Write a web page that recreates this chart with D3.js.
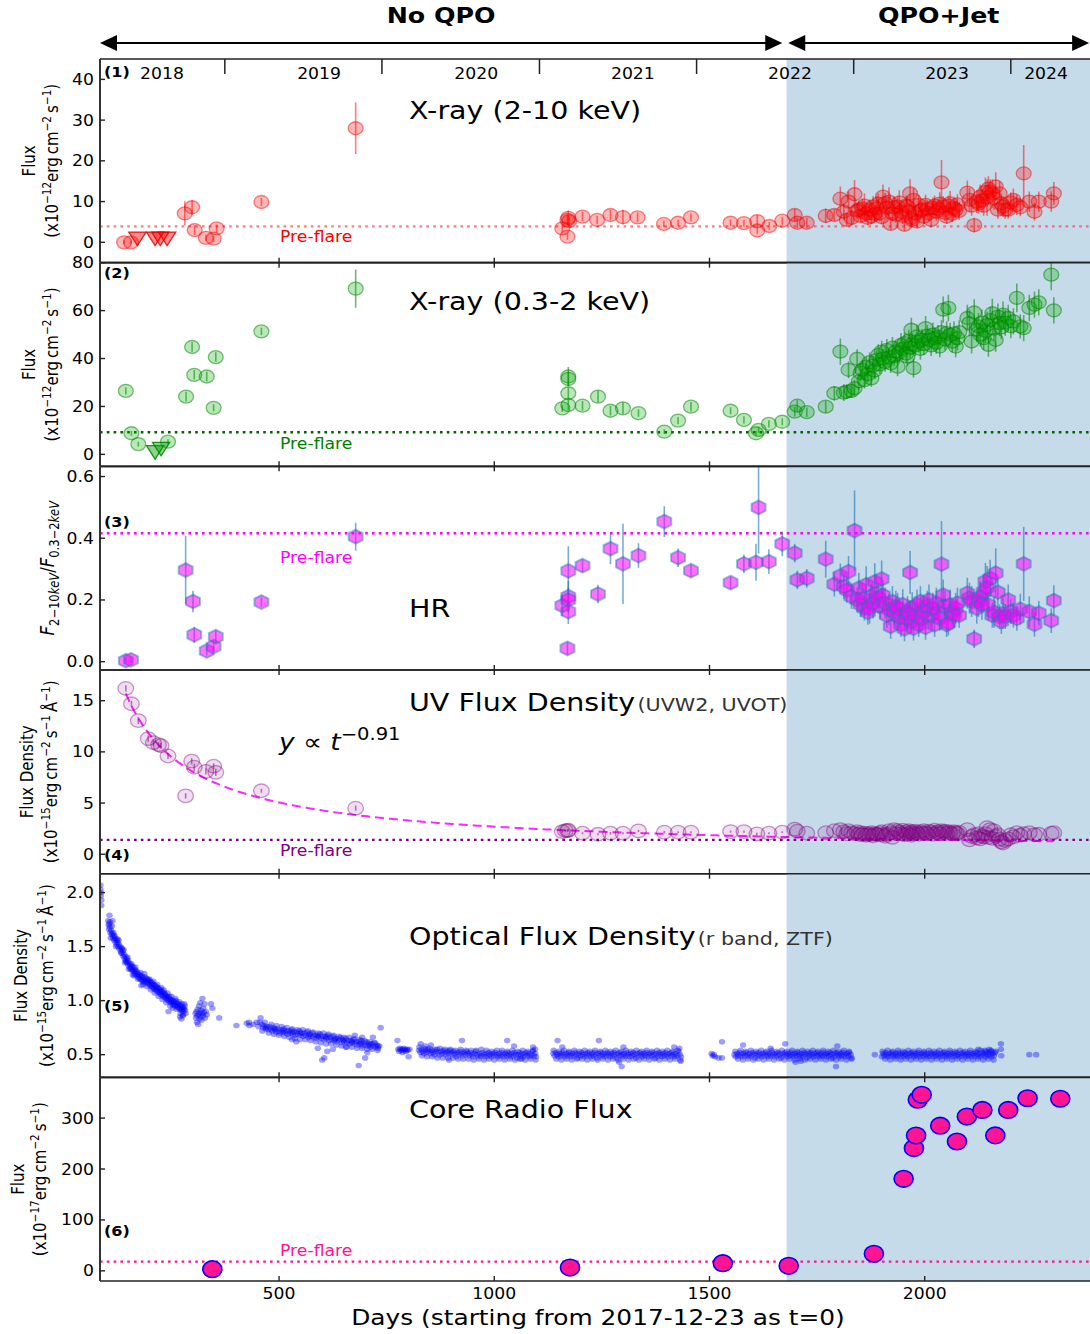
<!DOCTYPE html>
<html><head><meta charset="utf-8">
<script src="https://cdn.jsdelivr.net/npm/d3@7/dist/d3.min.js"></script>
<style>
html,body{margin:0;padding:0;background:#fff;}
svg{display:block;}
text{font-family:"DejaVu Sans","Liberation Sans",sans-serif;}
</style></head>
<body><svg id="chart" width="1090" height="1334"></svg>
<script>
// ================= DATA =================
const xDomain = [84, 2384];
const qpoStart = 1679;
const arrowNoQpo = [84, 1669];
const arrowQpo = [1683, 2382];
const phaseLabels = ["No QPO", "QPO+Jet"];
const yearTickDays = [374, 739, 1105, 1470, 1835, 2200];
const yearLabels = ["2018", "2019", "2020", "2021", "2022", "2023", "2024"];
const yearLabelDays = [228, 593, 958, 1322, 1687, 2052, 2282];
const dayTicks = [500, 1000, 1500, 2000];

const p1Ticks = [0, 10, 20, 30, 40];
const p2Ticks = [0, 20, 40, 60, 80];
const p3Ticks = [0, 0.2, 0.4, 0.6];
const p4Ticks = [0, 5, 10, 15];
const p5Ticks = [0.5, 1.0, 1.5, 2.0];
const p6Ticks = [0, 100, 200, 300];
const preFlare = [3.9, 9.2, 0.416, 1.4, null, 18];

// Swift/XRT observation days in the QPO+Jet era (shared by panels 1-4)
const qDays = [1698,1704,1726,1770,1790,1804,1812,1819,1823,1830,
1837,1843,1847,1851,1855,1860,1864,1868,1872,1876,
1880,1884,1888,1892,1896,1900,1903,1908,1912,1917,
1921,1925,1929,1933,1937,1941,1945,1949,1953,1957,
1960,1963,1966,1969,1971,1974,1978,1982,1986,1990,
1994,1998,2002,2006,2010,2015,2019,2023,2027,2031,
2035,2039,2043,2047,2051,2055,2059,2064,2068,2072,
2076,2080,2099,2104,2109,2115,2121,2125,2129,2133,
2137,2141,2145,2148,2152,2157,2161,2165,2170,2174,
2178,2182,2187,2194,2200,2206,2214,2222,2230,2243,
2255,2265,2294,2300];

// Panel 1: X-ray 2-10 keV
const hardDays = [140,156,281,298,304,330,348,355,459,678,1158,1170,1170,1172,1174,1205,1239,1270,1299,1333,1394,1427,1457,1549,1580,1611,1611,1639,1669];
const hardVal = [0.0,0.0,7.1,8.6,3.0,1.1,0.9,3.4,9.9,28.0,3.4,5.5,1.4,6.0,5.2,6.3,5.5,6.7,6.2,6.1,4.5,4.8,6.1,4.8,4.7,5.2,2.9,4.0,5.3];
const hardErr = [0.4,0.4,3.0,1.8,1.2,0.8,0.8,1.0,1.0,6.3,1.0,1.2,0.8,1.8,1.2,1.2,1.0,1.3,1.8,1.2,0.8,0.8,1.0,0.8,0.8,1.5,0.8,1.0,1.0];
const hardQ = [6.7,4.8,4.8,6.5,6.7,10.7,7.5,5.5,10.0,6.0,
11.8,7.8,8.0,6.5,8.3,9.0,7.1,6.0,8.0,6.3,
8.8,7.0,8.3,9.5,7.1,6.2,11.2,9.6,8.5,10.0,
4.5,7.1,8.6,6.8,8.8,9.8,7.5,6.5,4.3,9.0,
8.8,7.5,12.0,6.0,5.5,10.4,7.1,5.1,9.2,7.8,
8.0,6.3,9.2,8.2,7.1,5.5,8.5,9.0,7.5,8.2,
9.5,14.7,8.8,7.2,6.3,9.0,9.6,7.0,8.4,8.0,
9.3,7.7,12.2,10.4,9.0,4.2,10.0,9.5,11.2,10.2,
9.0,12.4,11.0,13.2,12.5,12.0,10.8,13.7,8.0,12.0,
9.5,8.8,8.0,8.0,9.8,10.4,9.2,8.6,16.9,10.0,
7.5,10.0,10.0,12.0];
const hardQErr = [1.5,1.2,1.2,1.8,1.5,3.0,2.0,1.5,2.5,1.8,
3.5,2.0,2.2,1.8,2.5,3.0,2.0,1.8,2.5,1.8,
2.5,2.0,3.0,2.5,2.0,1.8,3.0,2.5,2.2,3.5,
1.5,2.0,2.5,2.0,2.5,3.0,2.2,2.0,1.5,2.5,
2.5,2.0,3.5,1.8,1.8,3.0,2.0,1.5,2.5,2.2,
2.2,1.8,2.5,2.2,2.0,1.8,2.5,2.5,2.2,2.5,
2.8,5.5,2.5,2.0,1.8,2.5,3.0,2.0,2.5,2.2,
2.5,2.2,3.0,3.0,2.5,1.8,2.8,2.5,3.0,2.8,
2.5,3.5,4.5,3.0,3.0,3.5,2.8,3.5,2.2,3.0,
2.5,2.5,2.2,2.2,2.5,2.8,2.5,2.2,7.0,2.5,
2.2,2.5,2.5,2.8];
const hardULDays = [171, 212, 224, 240];
const hardULVal = [0.8, 0.8, 0.8, 0.8];

// Panel 2: X-ray 0.3-2 keV
const softDays = [144,157,173,242,284,298,303,332,348,353,459,678,1158,1172,1172,1172,1172,1205,1241,1270,1299,1335,1395,1427,1457,1549,1580,1608,1614,1638,1669];
const softVal = [26.5,8.8,4.3,5.3,24.1,44.8,33.2,32.5,19.4,40.6,51.3,69.2,19.2,32.5,31.5,25.5,20.6,20.3,24.1,18.2,19.2,17.2,9.5,14.1,19.9,18.2,14.4,8.8,10.2,12.7,13.6];
const softErr = [1.5,1.0,1.0,1.0,2.0,2.0,2.0,2.0,1.5,2.0,1.5,8.0,1.5,4.0,3.0,2.5,2.0,2.0,2.5,2.0,2.5,1.5,1.0,1.5,2.0,1.5,1.5,1.0,1.2,1.5,1.5];
const softQ = [17.8,20.3,17.6,19.9,25.5,42.9,25.8,26.2,35.3,26.5,
27.6,39.9,30.5,34.0,35.3,31.0,36.6,33.5,38.5,31.7,
37.0,35.0,39.4,41.5,37.5,42.9,40.0,38.5,43.6,40.5,
38.0,44.5,41.0,43.0,36.6,42.5,45.7,44.0,46.4,42.0,
40.8,47.5,44.5,52.0,46.0,36.0,45.5,49.2,47.0,44.0,
47.8,46.0,52.7,49.5,47.8,45.5,50.0,48.5,46.5,49.0,
45.0,51.0,60.4,48.0,50.6,61.1,49.9,47.0,50.5,45.0,
48.5,51.0,56.9,54.8,47.1,59.2,52.0,53.4,50.0,55.0,
48.5,51.5,54.0,45.7,56.0,58.9,52.5,47.8,57.5,54.8,
53.0,58.3,55.0,56.9,53.5,55.5,65.3,53.4,52.7,61.1,
62.5,63.4,75.0,60.1];
const softQErr = [2.0,2.5,2.0,2.5,3.0,5.5,3.5,3.0,3.5,3.0,
3.5,4.0,3.5,3.5,4.0,3.5,4.0,3.5,4.0,3.5,
4.0,3.5,4.0,4.5,4.0,4.5,4.0,4.0,4.5,4.0,
4.0,4.5,4.0,4.5,4.0,4.5,5.0,4.5,4.5,4.0,
4.0,4.5,4.5,5.0,4.5,4.0,4.5,5.0,4.5,4.5,
4.5,4.5,5.0,4.5,4.5,4.5,5.0,4.5,4.5,5.0,
4.5,5.0,5.5,4.5,5.0,5.5,5.0,4.5,5.0,4.5,
5.0,5.0,5.5,5.5,5.0,5.5,5.0,5.5,5.0,5.5,
5.0,5.0,5.5,5.0,5.5,6.0,5.0,5.0,5.5,5.5,
5.0,5.5,5.5,5.5,5.0,5.5,6.0,5.0,5.5,5.5,
5.5,5.5,6.5,5.5];
const softULDays = [212, 226];
const softULVal = [0.7, 2.1];

// Panel 3: hardness ratio
const hrDays = [144,156,283,300,303,332,348,353,459,678,1158,1170,1172,1172,1172,1172,1205,1241,1270,1299,1335,1395,1427,1457,1549,1580,1608,1614,1638,1669];
const hrVal = [0.003,0.006,0.297,0.195,0.087,0.035,0.049,0.081,0.193,0.405,0.182,0.043,0.294,0.211,0.200,0.162,0.311,0.219,0.366,0.317,0.344,0.454,0.337,0.295,0.256,0.317,0.322,0.500,0.324,0.382];
const hrErr = [0.01,0.01,0.11,0.035,0.025,0.015,0.015,0.02,0.015,0.045,0.035,0.02,0.08,0.05,0.04,0.04,0.02,0.03,0.05,0.13,0.04,0.05,0.03,0.02,0.02,0.03,0.06,0.15,0.04,0.04];
const hrQ = [0.352,0.265,0.270,0.332,0.251,0.278,0.243,0.232,0.292,0.211,
0.425,0.200,0.238,0.185,0.206,0.173,0.249,0.160,0.173,0.211,
0.190,0.259,0.222,0.206,0.180,0.268,0.215,0.190,0.150,0.170,
0.114,0.195,0.160,0.180,0.173,0.145,0.120,0.185,0.106,0.140,
0.162,0.155,0.289,0.130,0.175,0.108,0.150,0.184,0.120,0.195,
0.140,0.162,0.111,0.180,0.200,0.150,0.173,0.120,0.190,0.160,
0.140,0.316,0.216,0.180,0.120,0.125,0.184,0.160,0.150,0.173,
0.190,0.150,0.222,0.206,0.195,0.074,0.173,0.195,0.210,0.185,
0.227,0.260,0.240,0.184,0.270,0.150,0.160,0.287,0.225,0.146,
0.130,0.157,0.146,0.200,0.162,0.150,0.140,0.170,0.317,0.162,
0.121,0.157,0.133,0.198];
const hrQErr = [0.03,0.03,0.03,0.06,0.04,0.04,0.04,0.04,0.05,0.04,
0.13,0.04,0.05,0.04,0.05,0.04,0.06,0.04,0.05,0.04,
0.05,0.06,0.05,0.05,0.04,0.06,0.05,0.05,0.04,0.05,
0.04,0.05,0.04,0.05,0.05,0.04,0.04,0.05,0.04,0.04,
0.05,0.04,0.07,0.04,0.05,0.04,0.04,0.05,0.04,0.05,
0.04,0.05,0.04,0.05,0.05,0.04,0.05,0.04,0.05,0.04,
0.04,0.14,0.05,0.05,0.04,0.04,0.05,0.04,0.04,0.05,
0.05,0.04,0.05,0.05,0.05,0.03,0.05,0.05,0.05,0.05,
0.05,0.06,0.07,0.05,0.06,0.04,0.05,0.08,0.05,0.04,
0.04,0.05,0.04,0.05,0.04,0.04,0.04,0.05,0.12,0.05,
0.04,0.04,0.04,0.05];

// Panel 4: UV (UVW2) flux density
const uvDays = [144,157,173,196,208,220,226,242,283,297,303,330,348,353,459,678,1158,1165,1170,1172,1205,1241,1270,1299,1335,1395,1427,1457,1549,1580,1610,1638,1669];
const uvVal = [16.2,14.7,13.05,11.3,10.9,10.7,10.6,9.6,5.7,9.1,8.5,8.1,8.6,8.0,6.2,4.5,2.21,2.3,2.31,2.35,2.05,1.95,2.05,2.05,2.28,2.15,2.15,2.15,2.21,2.21,1.98,2.05,2.15];
const uvErr = [0.3,0.3,0.35,0.3,0.3,0.25,0.3,0.3,0.25,0.3,0.35,0.3,0.3,0.35,0.2,0.25,0.1,0.1,0.12,0.1,0.1,0.1,0.12,0.1,0.1,0.12,0.1,0.1,0.1,0.1,0.12,0.1,0.1];
const uvQ = [2.45,2.25,2.05,2.1,2.3,2.4,2.2,2.0,2.3,2.1,
2.0,2.2,1.95,2.1,1.9,2.05,1.85,2.0,1.9,2.1,
1.8,2.0,1.95,1.9,2.1,2.2,1.9,1.75,1.95,2.3,
2.1,1.65,2.4,2.0,2.3,2.15,2.0,2.35,1.9,2.2,
2.0,2.3,2.1,1.85,2.2,2.0,2.25,2.1,1.95,2.2,
2.05,2.3,2.1,2.0,2.25,2.15,1.95,2.35,2.1,2.2,
2.0,2.3,2.15,2.25,2.05,2.2,2.1,2.0,2.2,2.1,
2.0,2.15,2.4,1.4,1.74,1.9,1.6,2.0,1.5,1.8,
1.7,2.0,2.6,1.65,2.4,1.55,2.3,1.75,1.9,1.45,
1.2,1.1,1.35,1.5,1.9,1.7,2.1,1.85,2.0,2.1,
1.9,1.95,2.05,2.1];
const uvFitAmp = 1446, uvFitIndex = -0.91, uvFitRange = [144, 2300];

// Panel 5: optical (ZTF r band), "day:flux" pairs
const optA = "85:2.07 85:2.03 86:2.00 86:1.97 87:1.93 87:1.88 106:1.79 106:1.71 107:1.73 112:1.69 113:1.74";
const optB = "104:1.70 105:1.66 107:1.68 108:1.63 110:1.65 111:1.61 113:1.62 114:1.58 115:1.63 116:1.60 117:1.56 119:1.58 120:1.54 122:1.56 123:1.52 125:1.54 125:1.57 126:1.50 128:1.52 129:1.48 131:1.50 132:1.46 134:1.49 135:1.44 135:1.48 137:1.46 138:1.41 140:1.43 141:1.39 143:1.41 144:1.37 145:1.36 146:1.39 147:1.35 149:1.37 150:1.33 152:1.35 153:1.31 155:1.33 155:1.30 156:1.29 158:1.32 159:1.28 160:1.24 161:1.31 162:1.27 164:1.29 165:1.25 165:1.27 167:1.28 168:1.24 170:1.27 171:1.23 173:1.25 174:1.21 175:1.23 176:1.24 177:1.20 179:1.23 180:1.19 180:1.14 182:1.22 183:1.18 185:1.21 185:1.19 186:1.17 188:1.22 189:1.18 191:1.21 192:1.17 194:1.20 195:1.16 195:1.18 197:1.19 198:1.15 200:1.18 201:1.14 203:1.17 204:1.13 205:1.15 206:1.16 207:1.12 209:1.15 210:1.11 212:1.14 213:1.10 215:1.13 215:1.11 216:1.09 218:1.12 219:1.08 221:1.11 222:1.07 224:1.10 225:1.06 225:1.08 227:1.09 228:1.05 230:1.08 231:1.04 233:1.07 234:1.03 235:1.06 236:1.05 237:1.02 239:1.04 240:1.01 242:1.03 243:1.00 243:0.90 245:1.02 245:1.04 246:0.99 248:1.01 249:0.98 251:1.00 252:0.97 254:0.99 255:0.96 255:1.00 257:0.98 258:0.95 260:1.00 261:0.96 263:0.98 264:0.94 265:0.95 266:0.97 267:0.93 269:0.96 270:0.92 270:0.85 272:0.95 273:0.91 273:0.83 275:0.94 275:0.92 276:0.90 276:0.86 278:0.93 279:0.92 281:0.95 282:0.91";
const optBs = "103:1.74 109:1.58 118:1.60 121:1.50 127:1.56 133:1.44 139:1.47 142:1.35 148:1.40 151:1.29 157:1.34 163:1.23 166:1.31 172:1.20 178:1.26 184:1.15 187:1.25 193:1.13 199:1.20 202:1.10 208:1.18 211:1.07 217:1.15 220:1.04 226:1.12 229:1.01 232:1.10 238:0.98 241:1.07 247:0.95 250:1.04 253:0.93 259:1.02 262:0.92 268:0.99 271:0.88 274:0.97 277:0.87 280:0.97 283:0.88";
const optC = "306:0.88 307:0.84 308:0.90 309:0.80 310:0.86 311:0.92 312:0.78 313:0.87 314:0.95 315:0.83 316:0.89 317:0.98 318:0.85 319:0.91 320:0.82 321:0.88 322:1.02 323:0.86 324:0.93 325:0.89 327:0.97 328:0.84 330:0.90 332:0.87 342:0.97 345:0.93 361:0.84";
const optD = "401:0.77 425:0.79 430:0.80 431:0.77 440:0.78 448:0.80 452:0.76 457:0.84 460:0.78 463:0.75 466:0.77 469:0.74 470:0.75 472:0.76 475:0.73 478:0.76 481:0.74 484:0.72 487:0.75 490:0.73 490:0.74 493:0.71 496:0.74 499:0.72 502:0.70 505:0.73 508:0.71 510:0.72 511:0.74 514:0.70 517:0.72 520:0.69 523:0.72 526:0.70 529:0.73 530:0.71 530:0.64 532:0.69 535:0.71 538:0.68 540:0.62 541:0.71 544:0.69 547:0.72 550:0.68 550:0.70 553:0.70 556:0.67 559:0.70 562:0.68 565:0.71 568:0.66 570:0.68 571:0.69 574:0.67 577:0.70 580:0.66 583:0.68 586:0.65 589:0.68 590:0.67 590:0.56 592:0.66 595:0.69 598:0.65 600:0.45 601:0.67 604:0.64 605:0.47 607:0.67 610:0.65 610:0.66 612:0.53 613:0.68 616:0.63 619:0.66 622:0.64 625:0.67 625:0.55 628:0.63 630:0.64 631:0.65 634:0.62 637:0.65 640:0.63 643:0.66 646:0.61 649:0.64 650:0.63 652:0.62 655:0.65 655:0.57 658:0.61 661:0.63 664:0.60 667:0.63 670:0.61 670:0.62 673:0.64 676:0.60 676:0.68 679:0.62 682:0.59 685:0.62 685:0.40 688:0.60 690:0.60 691:0.63 693:0.66 694:0.58 697:0.61 700:0.59 700:0.47 703:0.62 705:0.52 706:0.58 709:0.60 710:0.59 712:0.57 715:0.60 718:0.58 718:0.66 721:0.61 724:0.57 727:0.59 730:0.56 730:0.58 733:0.58 736:0.75";
const optDs = "455:0.80 461:0.72 467:0.80 476:0.70 482:0.78 488:0.69 494:0.77 500:0.68 506:0.76 512:0.67 518:0.75 524:0.66 531:0.74 537:0.65 543:0.73 549:0.64 555:0.73 561:0.64 567:0.72 573:0.63 579:0.71 585:0.62 591:0.70 597:0.61 603:0.70 609:0.60 615:0.69 621:0.60 627:0.68 633:0.59 639:0.67 645:0.58 651:0.66 657:0.57 663:0.66 669:0.57 675:0.65 681:0.56 687:0.64 693:0.56 699:0.63 705:0.55 711:0.62 717:0.55 723:0.61 729:0.54";
const optE = "775:0.63 777:0.55 779:0.53 781:0.56 783:0.54 785:0.55 787:0.52 789:0.56 791:0.54 793:0.55 795:0.53 797:0.55 799:0.54 801:0.48 803:0.55";
const optF = "825:0.54 828:0.52 829:0.60 831:0.55 834:0.53 837:0.51 840:0.54 840:0.58 843:0.52 846:0.55 849:0.53 852:0.51 853:0.59 855:0.54 858:0.52 861:0.50 864:0.53 867:0.55 870:0.52 873:0.50 876:0.53 879:0.51 882:0.54 885:0.52 888:0.50 891:0.53 894:0.51 895:0.45 897:0.54 900:0.52 903:0.50 906:0.53 909:0.51 912:0.48 915:0.52 918:0.50 921:0.53 924:0.51 925:0.63 927:0.49 930:0.52 933:0.50 936:0.53 939:0.51 942:0.49 945:0.52 948:0.50 951:0.48 954:0.51 957:0.53 960:0.50 963:0.48 966:0.51 969:0.49 972:0.52 975:0.50 978:0.48 981:0.51 984:0.49 987:0.52 990:0.50 993:0.48 996:0.51 999:0.49 1002:0.52 1005:0.50 1008:0.48 1011:0.51 1014:0.49 1017:0.52 1020:0.50 1023:0.48 1026:0.51 1029:0.49 1030:0.63 1032:0.52 1035:0.50 1038:0.48 1041:0.51 1044:0.49 1046:0.58 1047:0.52 1050:0.50 1053:0.47 1056:0.50 1059:0.52 1062:0.49 1063:0.46 1065:0.51 1068:0.48 1071:0.50 1074:0.52 1077:0.49 1080:0.51 1083:0.48 1086:0.50 1089:0.53 1090:0.57 1092:0.49 1095:0.51 1095:0.55 1097:0.48";
const optFs = "826:0.57 832:0.49 838:0.56 844:0.48 850:0.56 856:0.48 862:0.55 868:0.47 874:0.56 880:0.47 886:0.55 892:0.47 898:0.55 904:0.47 910:0.54 916:0.46 922:0.55 928:0.46 934:0.54 940:0.46 946:0.54 952:0.45 958:0.54 964:0.46 970:0.55 976:0.45 982:0.54 988:0.46 994:0.53 1000:0.45 1006:0.54 1012:0.46 1018:0.54 1024:0.45 1030:0.53 1036:0.46 1042:0.54 1048:0.45 1054:0.53 1060:0.46 1066:0.54 1072:0.45 1078:0.53 1084:0.46 1090:0.54 1096:0.45";
const optG = "1137:0.51 1140:0.49 1143:0.52 1146:0.50 1147:0.63 1149:0.48 1152:0.51 1155:0.49 1158:0.52 1158:0.57 1161:0.50 1164:0.48 1167:0.51 1170:0.49 1173:0.52 1176:0.50 1179:0.48 1182:0.51 1185:0.49 1188:0.52 1191:0.50 1194:0.47 1197:0.51 1200:0.49 1203:0.52 1206:0.50 1209:0.48 1212:0.51 1215:0.49 1218:0.52 1221:0.50 1224:0.48 1227:0.51 1230:0.49 1233:0.52 1236:0.50 1239:0.47 1242:0.51 1243:0.63 1245:0.49 1248:0.52 1251:0.50 1254:0.48 1257:0.51 1260:0.49 1263:0.52 1266:0.50 1269:0.48 1272:0.51 1275:0.49 1278:0.52 1281:0.50 1284:0.47 1287:0.51 1290:0.49 1290:0.43 1293:0.52 1296:0.50 1296:0.39 1299:0.48 1300:0.57 1302:0.51 1305:0.49 1308:0.52 1311:0.50 1314:0.48 1317:0.51 1320:0.49 1323:0.52 1326:0.50 1329:0.47 1332:0.51 1335:0.49 1338:0.52 1341:0.50 1344:0.48 1347:0.51 1350:0.49 1353:0.52 1356:0.50 1359:0.48 1362:0.51 1365:0.49 1368:0.52 1371:0.50 1374:0.47 1377:0.51 1380:0.49 1383:0.52 1386:0.50 1389:0.48 1392:0.51 1395:0.49 1398:0.52 1401:0.50 1404:0.48 1407:0.51 1410:0.49 1413:0.52 1416:0.50 1418:0.57 1419:0.48 1422:0.51 1425:0.49 1428:0.53 1430:0.56 1431:0.50 1433:0.44 1434:0.48";
const optGs = "1138:0.54 1144:0.46 1150:0.53 1156:0.45 1162:0.54 1168:0.46 1174:0.53 1180:0.45 1186:0.54 1192:0.46 1198:0.53 1204:0.46 1210:0.54 1216:0.45 1222:0.53 1228:0.46 1234:0.54 1240:0.45 1246:0.53 1252:0.46 1258:0.54 1264:0.45 1270:0.53 1276:0.46 1282:0.54 1288:0.45 1294:0.53 1300:0.46 1306:0.54 1312:0.45 1318:0.53 1324:0.46 1330:0.54 1336:0.45 1342:0.53 1348:0.46 1354:0.54 1360:0.45 1366:0.53 1372:0.46 1378:0.54 1384:0.45 1390:0.53 1396:0.46 1402:0.54 1408:0.45 1414:0.53 1420:0.46 1426:0.54 1432:0.45";
const optH = "1505:0.51 1507:0.49 1510:0.50 1513:0.48 1521:0.47 1529:0.47 1529:0.62";
const optI = "1558:0.50 1561:0.48 1564:0.51 1567:0.49 1570:0.52 1573:0.50 1576:0.48 1578:0.59 1579:0.51 1582:0.49 1585:0.52 1588:0.50 1591:0.48 1594:0.51 1597:0.49 1600:0.52 1603:0.50 1606:0.47 1609:0.51 1612:0.49 1615:0.52 1618:0.50 1621:0.48 1624:0.51 1627:0.49 1630:0.52 1633:0.50 1636:0.48 1639:0.51 1642:0.49 1642:0.56 1645:0.52 1648:0.50 1651:0.48 1654:0.51 1657:0.49 1660:0.52 1663:0.50 1666:0.47 1669:0.51 1672:0.49 1675:0.52 1676:0.60 1678:0.50 1681:0.48 1684:0.51 1687:0.49 1690:0.52 1693:0.50 1696:0.48 1699:0.51 1700:0.43 1702:0.49 1705:0.52 1708:0.50 1711:0.48 1712:0.44 1714:0.51 1717:0.49 1720:0.52 1723:0.50 1726:0.47 1729:0.51 1732:0.49 1735:0.52 1738:0.50 1741:0.48 1744:0.51 1747:0.49 1750:0.52 1753:0.50 1756:0.48 1759:0.51 1762:0.49 1765:0.52 1768:0.50 1771:0.48 1774:0.51 1777:0.49 1780:0.52 1783:0.50 1786:0.47 1789:0.51 1792:0.49 1794:0.39 1795:0.52 1797:0.58 1798:0.50 1801:0.48 1804:0.51 1807:0.49 1810:0.52 1813:0.50 1816:0.48 1819:0.51 1822:0.49 1825:0.52 1828:0.50 1830:0.47";
const optIs = "1560:0.53 1566:0.46 1572:0.54 1578:0.45 1584:0.53 1590:0.46 1596:0.54 1602:0.45 1608:0.53 1614:0.46 1620:0.54 1626:0.45 1632:0.53 1638:0.46 1644:0.54 1650:0.45 1656:0.53 1662:0.46 1668:0.54 1674:0.45 1680:0.53 1686:0.46 1692:0.54 1698:0.45 1704:0.53 1710:0.46 1716:0.54 1722:0.45 1728:0.53 1734:0.46 1740:0.54 1746:0.45 1752:0.53 1758:0.46 1764:0.54 1770:0.45 1776:0.53 1782:0.46 1788:0.54 1794:0.45 1800:0.53 1806:0.46 1812:0.54 1818:0.45 1824:0.53 1830:0.46";
const optJ = "1884:0.50 1900:0.48 1903:0.51 1906:0.49 1909:0.52 1912:0.50 1915:0.48 1918:0.51 1921:0.49 1924:0.52 1927:0.50 1930:0.48 1933:0.51 1936:0.49 1939:0.52 1942:0.50 1945:0.48 1948:0.51 1951:0.49 1954:0.52 1957:0.50 1960:0.48 1963:0.51 1966:0.49 1969:0.52 1972:0.50 1975:0.48 1978:0.51 1981:0.49 1984:0.52 1987:0.50 1990:0.48 1993:0.51 1996:0.49 1999:0.52 2002:0.50 2005:0.48 2008:0.51 2011:0.49 2014:0.52 2017:0.50 2020:0.48 2023:0.51 2026:0.49 2029:0.52 2032:0.50 2035:0.48 2038:0.51 2041:0.49 2044:0.52 2047:0.50 2050:0.48 2053:0.51 2056:0.49 2059:0.52 2062:0.50 2065:0.48 2068:0.51 2071:0.49 2074:0.52 2077:0.50 2080:0.48 2083:0.51 2086:0.49 2089:0.52 2092:0.50 2095:0.48 2098:0.51 2101:0.49 2104:0.52 2107:0.50 2110:0.48 2113:0.51 2116:0.49 2119:0.52 2122:0.50 2125:0.48 2125:0.55 2128:0.51 2131:0.49 2134:0.52 2137:0.50 2140:0.48 2140:0.54 2143:0.51 2146:0.49 2149:0.52 2150:0.55 2152:0.50 2155:0.48 2155:0.53 2158:0.51 2161:0.49 2164:0.52";
const optJs = "1902:0.53 1908:0.46 1914:0.54 1920:0.45 1926:0.53 1932:0.46 1938:0.54 1944:0.45 1950:0.53 1956:0.46 1962:0.54 1968:0.45 1974:0.53 1980:0.46 1986:0.54 1992:0.45 1998:0.53 2004:0.46 2010:0.54 2016:0.45 2022:0.53 2028:0.46 2034:0.54 2040:0.45 2046:0.53 2052:0.46 2058:0.54 2064:0.45 2070:0.53 2076:0.46 2082:0.54 2088:0.45 2094:0.53 2100:0.46 2106:0.54 2112:0.45 2118:0.53 2124:0.46 2130:0.54 2136:0.45 2142:0.53 2148:0.46 2154:0.54 2160:0.45 2165:0.53";
const optK = "2177:0.60 2177:0.55 2178:0.49 2243:0.50 2259:0.50";

// Panel 6: core radio flux
const radioDays = [345,1176,1531,1684,1882,1951,1975,1980,1984,1993,2036,2075,2098,2134,2164,2194,2239,2315];
const radioVal = [3.3,6.5,15,9.8,33.4,180.7,241,265.8,336,345.8,285,254,303,316,266,316,339,338];

// ================= DRAWING =================
const svg = d3.select("#chart");
const L = 100, R = 1090, T0 = 59, PH = 203.67, SX = 1.15;
const x = d3.scaleLinear().domain(xDomain).range([L, R]);
const defs = svg.append("defs");

function addText(sel, px, py, parts, o) {
  o = o || {};
  const t = sel.append("text")
    .attr("transform", `translate(${px},${py}) scale(${SX},1)` + (o.rot ? ` rotate(${o.rot})` : ""))
    .attr("font-size", o.size || 15)
    .attr("text-anchor", o.anchor || "start")
    .attr("fill", o.fill || "#000");
  if (o.weight) t.attr("font-weight", o.weight);
  if (o.style) t.attr("font-style", o.style);
  if (typeof parts === "string") parts = [{t: parts}];
  let shift = 0;
  parts.forEach(p => {
    const ts = t.append("tspan").text(p.t);
    const target = p.dy || 0;
    if (target - shift !== 0) ts.attr("dy", target - shift);
    shift = target;
    if (p.size) ts.attr("font-size", p.size);
    if (p.style) ts.attr("font-style", p.style);
    if (p.fill) ts.attr("fill", p.fill);
    if (p.dx) ts.attr("dx", p.dx);
  });
  return t;
}
function parsePairs(s) { return s.trim().split(/\s+/).map(p => { const a = p.split(":"); return [+a[0], +a[1]]; }); }
function zip(d, v, e) { return d.map((dd, i) => ({d: dd, v: v[i], e: e ? e[i] : 0})); }

function hexPath(cx, cy, r) {
  const pts = [];
  for (let k = 0; k < 6; k++) {
    const a = (-90 + 60 * k) * Math.PI / 180;
    pts.push([cx + r * SX * Math.cos(a), cy + r * Math.sin(a)]);
  }
  return "M" + pts.map(p => p.join(",")).join("L") + "Z";
}
function triPath(cx, cy, s) {
  return `M${cx - s * SX},${cy - s * 0.8}L${cx + s * SX},${cy - s * 0.8}L${cx},${cy + s}Z`;
}

// ---------- top arrows and phase labels ----------
const arrowG = svg.append("g");
function drawArrow(a, b, yy) {
  const xa = x(a), xb = x(b), hl = 17, hw = 8;
  arrowG.append("line").attr("x1", xa + 5).attr("x2", xb - 5).attr("y1", yy).attr("y2", yy)
    .attr("stroke", "#000").attr("stroke-width", 2.2);
  arrowG.append("path").attr("d", `M${xa},${yy}L${xa + hl},${yy - hw}L${xa + hl},${yy + hw}Z`).attr("fill", "#000");
  arrowG.append("path").attr("d", `M${xb},${yy}L${xb - hl},${yy - hw}L${xb - hl},${yy + hw}Z`).attr("fill", "#000");
}
drawArrow(arrowNoQpo[0], arrowNoQpo[1], 43);
drawArrow(arrowQpo[0], arrowQpo[1], 43);
addText(svg, (x(arrowNoQpo[0]) + x(arrowNoQpo[1])) / 2, 23, phaseLabels[0], {size: 22, weight: "bold", anchor: "middle"});
addText(svg, (x(arrowQpo[0]) + x(arrowQpo[1])) / 2, 23, phaseLabels[1], {size: 22, weight: "bold", anchor: "middle"});

// ---------- panel configuration (styles only) ----------
const sup = (t, dy) => ({t: t, size: 10.5, dy: dy === undefined ? -6 : dy});
const unitsParts = (exp, withA) => {
  const p = [{t: "(x10"}, sup("\u2212" + exp), {t: "erg\u2009cm", dy: 0}, sup("\u22122"), {t: "\u2009s", dy: 0}, sup("\u22121")];
  if (withA) { p.push({t: "\u2009\u00C5", dy: 0}); p.push(sup("\u22121")); }
  p.push({t: ")", dy: 0});
  return p;
};
const panels = [
  {dom: [-5, 45], ticks: p1Ticks, fmt: d3.format("d"), preColor: "rgba(255,70,70,0.7)", preTextColor: "#ff0000", preTextVal: 0.0,
   lab: "(1)", labY: 77, title: "X-ray (2-10 keV)", titleY: 119,
   y1: {t: "Flux", x: 35}, y2: {parts: unitsParts("12"), x: 58}},
  {dom: [-5, 80], ticks: p2Ticks, fmt: d3.format("d"), preColor: "#006400", preTextColor: "#008000", preTextVal: 2.2,
   lab: "(2)", labY: 278, title: "X-ray (0.3-2 keV)", titleY: 310,
   y1: {t: "Flux", x: 35}, y2: {parts: unitsParts("12"), x: 58}},
  {dom: [-0.027, 0.633], ticks: p3Ticks, fmt: d3.format(".1f"), preColor: "#ff00ff", preTextColor: "#ff00ff", preTextVal: 0.32,
   lab: "(3)", labY: 527, title: "HR", titleY: 617,
   y1: null, y2: {parts: [{t: "F", style: "italic"}, {t: "2\u221210", size: 11.5, dy: 4}, {t: "keV", size: 11.5, dy: 4, style: "italic"},
     {t: "/", dy: 0}, {t: "F", style: "italic", dy: 0}, {t: "0.3\u22122", size: 11.5, dy: 4}, {t: "keV", size: 11.5, dy: 4, style: "italic"}], x: 54, size: 16.5}},
  {dom: [-1.9, 18], ticks: p4Ticks, fmt: d3.format("d"), preColor: "#800080", preTextColor: "#800080", preTextVal: -0.17,
   lab: "(4)", labY: 860, title: "UV Flux Density", sub: "(UVW2, UVOT)", titleY: 711,
   y1: {t: "Flux Density", x: 33}, y2: {parts: unitsParts("15", true), x: 57}},
  {dom: [0.29, 2.175], ticks: p5Ticks, fmt: d3.format(".1f"), preColor: null,
   lab: "(5)", labY: 1011, title: "Optical Flux Density", sub: "(r band, ZTF)", titleY: 945,
   y1: {t: "Flux Density", x: 27}, y2: {parts: unitsParts("15", true), x: 53}},
  {dom: [-20, 380], ticks: p6Ticks, fmt: d3.format("d"), preColor: "#ff1493", preTextColor: "#ff1493", preTextVal: 29.5,
   lab: "(6)", labY: 1236, title: "Core Radio Flux", titleY: 1118,
   y1: {t: "Flux", x: 24}, y2: {parts: unitsParts("17"), x: 46}}
];

panels.forEach((P, i) => {
  const top = T0 + i * PH, bot = top + PH;
  const y = d3.scaleLinear().domain(P.dom).range([bot, top]);
  const g = svg.append("g");
  defs.append("clipPath").attr("id", "clip" + i).append("rect")
    .attr("x", L).attr("y", top).attr("width", R - L).attr("height", PH);
  // QPO+Jet shading
  g.append("rect").attr("x", x(qpoStart)).attr("y", top).attr("width", R - x(qpoStart)).attr("height", PH).attr("fill", "#c6dbea");
  const pg = g.append("g").attr("clip-path", `url(#clip${i})`);

  // pre-flare level
  if (P.preColor) {
    pg.append("line").attr("x1", L).attr("x2", R).attr("y1", y(preFlare[i])).attr("y2", y(preFlare[i]))
      .attr("stroke", P.preColor).attr("stroke-width", 2.4).attr("stroke-dasharray", "2.6,4.2");
    addText(g, 280, y(P.preTextVal), "Pre-flare", {size: 15, fill: P.preTextColor});
  }

  const errBars = (data, color) => {
    pg.selectAll(null).data(data).enter().append("line")
      .attr("x1", d => x(d.d)).attr("x2", d => x(d.d))
      .attr("y1", d => y(d.v - d.e)).attr("y2", d => y(d.v + d.e))
      .attr("stroke", color).attr("stroke-width", 1.6);
  };
  const circles = (data, r, fill, stroke, sw) => {
    pg.selectAll(null).data(data).enter().append("ellipse")
      .attr("cx", d => x(d.d)).attr("cy", d => y(d.v)).attr("rx", r * SX).attr("ry", r)
      .attr("fill", fill).attr("stroke", stroke).attr("stroke-width", sw || 1.3);
  };

  if (i === 0) {
    const data = zip(hardDays, hardVal, hardErr).concat(zip(qDays, hardQ, hardQErr));
    errBars(data, "rgba(255,0,0,0.5)");
    circles(data, 6.5, "rgba(255,0,0,0.28)", "rgba(230,0,0,0.45)");
    pg.selectAll(null).data(zip(hardULDays, hardULVal)).enter().append("path")
      .attr("d", d => triPath(x(d.d), y(d.v) - 1, 7.5)).attr("fill", "rgba(255,0,0,0.45)").attr("stroke", "rgba(220,0,0,0.85)").attr("stroke-width", 1.3);
  } else if (i === 1) {
    const data = zip(softDays, softVal, softErr).concat(zip(qDays, softQ, softQErr));
    errBars(data, "rgba(0,128,0,0.55)");
    circles(data, 6.5, "rgba(0,170,0,0.28)", "rgba(0,128,0,0.5)");
    pg.selectAll(null).data(zip(softULDays, softULVal)).enter().append("path")
      .attr("d", d => triPath(x(d.d), y(d.v) - 1, 7.5)).attr("fill", "rgba(0,160,0,0.45)").attr("stroke", "rgba(0,128,0,0.85)").attr("stroke-width", 1.3);
  } else if (i === 2) {
    const data = zip(hrDays, hrVal, hrErr).concat(zip(qDays, hrQ, hrQErr));
    errBars(data, "rgba(31,119,180,0.6)");
    pg.selectAll(null).data(data).enter().append("path")
      .attr("d", d => hexPath(x(d.d), y(d.v), 7))
      .attr("fill", "rgba(255,0,255,0.55)").attr("stroke", "rgba(31,119,180,0.45)").attr("stroke-width", 2);
  } else if (i === 3) {
    const pre = zip(uvDays, uvVal, uvErr);
    const q = zip(qDays, uvQ, null);
    // power-law fit curve
    const fitPts = d3.range(uvFitRange[0], uvFitRange[1] + 1, 4).map(t => [t, uvFitAmp * Math.pow(t, uvFitIndex)]);
    pg.append("path").attr("d", d3.line().x(d => x(d[0])).y(d => y(d[1]))(fitPts))
      .attr("fill", "none").attr("stroke", "rgba(255,0,255,0.85)").attr("stroke-width", 2).attr("stroke-dasharray", "9,5");
    errBars(pre, "rgba(128,0,128,0.5)");
    circles(pre.concat(q), 6.8, "rgba(128,0,128,0.13)", "rgba(128,0,128,0.4)");
  } else if (i === 4) {
    const pts = [optA, optB, optBs, optC, optD, optDs, optE, optF, optFs, optG, optGs, optH, optI, optIs, optJ, optJs, optK].flatMap(parsePairs);
    pg.selectAll(null).data(pts).enter().append("ellipse")
      .attr("cx", d => x(d[0])).attr("cy", d => y(d[1])).attr("rx", 2.8 * SX).attr("ry", 2.8)
      .attr("fill", "rgba(0,0,255,0.38)");
  } else if (i === 5) {
    const data = zip(radioDays, radioVal);
    circles(data, 8.3, "#ff1493", "#0000ff", 1.6);
  }

  // spines
  const spine = "#222";
  g.append("line").attr("x1", L).attr("x2", R).attr("y1", top).attr("y2", top).attr("stroke", spine).attr("stroke-width", 1.6);
  g.append("line").attr("x1", L).attr("x2", R).attr("y1", bot).attr("y2", bot).attr("stroke", spine).attr("stroke-width", 1.6);
  g.append("line").attr("x1", L).attr("x2", L).attr("y1", top).attr("y2", bot).attr("stroke", "#333").attr("stroke-width", 2);

  // x ticks (inward)
  dayTicks.forEach(d => {
    g.append("line").attr("x1", x(d)).attr("x2", x(d)).attr("y1", bot).attr("y2", bot - 5).attr("stroke", spine).attr("stroke-width", 1.4);
    if (i > 0) g.append("line").attr("x1", x(d)).attr("x2", x(d)).attr("y1", top).attr("y2", top + 5).attr("stroke", spine).attr("stroke-width", 1.4);
  });
  // y ticks
  P.ticks.forEach(t => {
    g.append("line").attr("x1", L).attr("x2", L + 5).attr("y1", y(t)).attr("y2", y(t)).attr("stroke", spine).attr("stroke-width", 1.4);
    addText(g, 94, y(t) + 5.5, P.fmt(t), {size: 15, anchor: "end"});
  });

  // panel number, title
  addText(g, 104, P.labY, P.lab, {size: 14, weight: "bold"});
  const tparts = [{t: P.title}];
  if (P.sub) tparts.push({t: P.sub, size: 18, fill: "#333", dx: 2});
  addText(g, 409, P.titleY, tparts, {size: 24.8});

  // y-axis label
  const cy = (top + bot) / 2;
  if (P.y1) addText(g, P.y1.x, cy, P.y1.t, {size: 15, anchor: "middle", rot: -90});
  addText(g, P.y2.x, cy, P.y2.parts, {size: P.y2.size || 15, anchor: "middle", rot: -90});

  if (i === 3) {
    addText(g, 279, 750, [{t: "y", style: "italic"}, {t: " \u221D "}, {t: "t", style: "italic"}, {t: "\u22120.91", size: 17, dy: -10}], {size: 23});
  }
});

// year axis on top of panel 1
yearTickDays.forEach(d => {
  svg.append("line").attr("x1", x(d)).attr("x2", x(d)).attr("y1", T0).attr("y2", T0 + 15).attr("stroke", "#222").attr("stroke-width", 1.5);
});
yearLabels.forEach((lab, k) => addText(svg, x(yearLabelDays[k]), 79, lab, {size: 15, anchor: "middle"}));

// bottom x tick labels and axis title
const botY = T0 + 6 * PH;
dayTicks.forEach(d => addText(svg, x(d), botY + 18, String(d), {size: 15, anchor: "middle"}));
addText(svg, 598, 1325, "Days (starting from 2017-12-23 as t=0)", {size: 21.6, anchor: "middle"});
</script>
</body></html>
